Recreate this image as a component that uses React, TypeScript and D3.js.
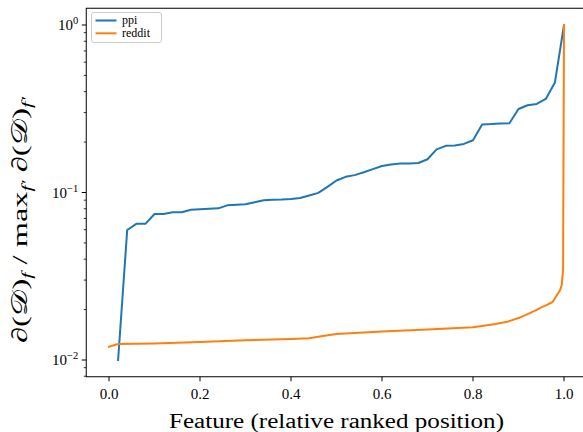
import { useEffect, useRef } from "react";
import * as d3 from "d3";

// ppi: 50 features, ranked; value normalised by the max
const ppiValues = [
  0.01, 0.0597, 0.065, 0.065, 0.0744, 0.0744, 0.0762, 0.0762, 0.0789, 0.0795,
  0.08, 0.0804, 0.0838, 0.0845, 0.085, 0.0875, 0.0898, 0.0905, 0.0908, 0.0915,
  0.0928, 0.096, 0.0995, 0.108, 0.118, 0.124, 0.127, 0.132, 0.138, 0.144,
  0.147, 0.149, 0.149, 0.15, 0.158, 0.181, 0.19, 0.191, 0.195, 0.205,
  0.255, 0.256, 0.258, 0.259, 0.315, 0.332, 0.338, 0.362, 0.453, 1.0,
];

// reddit: at these relative positions
const redditPositions = [
  0, 0.02, 0.1, 0.2, 0.3, 0.4, 0.44, 0.47, 0.5, 0.6, 0.7, 0.8, 0.85, 0.875,
  0.9, 0.92, 0.94, 0.95, 0.96, 0.975, 0.985, 0.991, 0.995, 0.998, 1.0,
];
const redditValues = [
  0.012, 0.01245, 0.01255, 0.0128, 0.0131, 0.01335, 0.0135, 0.0139, 0.0143,
  0.0148, 0.0152, 0.0157, 0.0164, 0.0169, 0.0178, 0.0188, 0.0199, 0.0206,
  0.0212, 0.0222, 0.0245, 0.026, 0.028, 0.035, 1.0,
];

const xTicks = [0, 0.2, 0.4, 0.6, 0.8, 1.0];
const yTicks = [1, 0.1, 0.01];
const yTickExp = ["0", "\u22121", "\u22122"];
const seriesNames = ["ppi", "reddit"];
const colors = ["#1f77b4", "#ff7f0e"];

const W = 583;
const H = 432;

export default function App() {
  const ref = useRef<SVGSVGElement>(null);

  useEffect(() => {
    if (!ref.current) return;
    const svg = d3.select(ref.current);
    svg.selectAll("*").remove();

    const left = 86.25;
    const right = 586.75;
    const top = 8.25;
    const bottom = 376.75;

    const x = d3.scaleLinear().domain([-0.05, 1.05]).range([left, right]);
    const y = d3
      .scaleLog()
      .domain([Math.pow(10, -2.1), Math.pow(10, 0.1)])
      .range([bottom, top]);

    const ppi = ppiValues.map((v, i) => ({ x: (i + 1) / ppiValues.length, v }));
    const reddit = redditPositions.map((p, i) => ({ x: p, v: redditValues[i] }));

    const line = d3
      .line<{ x: number; v: number }>()
      .x((d) => x(d.x))
      .y((d) => y(d.v));

    const g = svg.append("g").attr("font-family", "Liberation Serif, DejaVu Serif, serif");

    // lines
    [ppi, reddit].forEach((data, i) => {
      g.append("path")
        .datum(data)
        .attr("fill", "none")
        .attr("stroke", colors[i])
        .attr("stroke-width", 2)
        .attr("stroke-linejoin", "round")
        .attr("stroke-linecap", "square")
        .attr("d", line);
    });

    // frame
    g.append("rect")
      .attr("x", left)
      .attr("y", top)
      .attr("width", right - left)
      .attr("height", bottom - top)
      .attr("fill", "none")
      .attr("stroke", "#000")
      .attr("stroke-width", 1);

    // x ticks
    xTicks.forEach((t) => {
      g.append("line")
        .attr("x1", x(t))
        .attr("x2", x(t))
        .attr("y1", bottom)
        .attr("y2", bottom + 4.5)
        .attr("stroke", "#000");
      g.append("text")
        .attr("x", x(t))
        .attr("y", bottom + 22)
        .attr("text-anchor", "middle")
        .attr("font-size", 15)
        .text(t.toFixed(1));
    });

    // y minor ticks
    [0.001, 0.01, 0.1].forEach((base) => {
      d3.range(2, 10).forEach((m) => {
        const v = base * m;
        if (v < y.domain()[0] || v > y.domain()[1]) return;
        g.append("line")
          .attr("x1", left)
          .attr("x2", left - 2.5)
          .attr("y1", y(v))
          .attr("y2", y(v))
          .attr("stroke", "#000")
          .attr("stroke-width", 0.8);
      });
    });

    // y major ticks
    yTicks.forEach((t, i) => {
      g.append("line")
        .attr("x1", left)
        .attr("x2", left - 4.5)
        .attr("y1", y(t))
        .attr("y2", y(t))
        .attr("stroke", "#000");
      const txt = g
        .append("text")
        .attr("x", left - 8)
        .attr("y", y(t) + 5)
        .attr("text-anchor", "end")
        .attr("font-size", 15);
      txt.append("tspan").text("10");
      txt.append("tspan").attr("dy", -6).attr("font-size", 10.5).text(yTickExp[i]);
    });

    // x label
    g.append("text")
      .attr("x", (x(0) + x(1)) / 2)
      .attr("y", 428)
      .attr("text-anchor", "middle")
      .attr("font-size", 20)
      .attr("textLength", 335)
      .attr("lengthAdjust", "spacingAndGlyphs")
      .text("Feature (relative ranked position)");

    // y label
    const yl = g
      .append("text")
      .attr("transform", "translate(27,220) rotate(-90)")
      .attr("text-anchor", "middle")
      .attr("font-size", 22)
      .attr("textLength", 246)
      .attr("lengthAdjust", "spacingAndGlyphs");
    const sub = (s: string) =>
      yl.append("tspan").attr("dy", 5).attr("font-size", 15).attr("font-style", "italic").text(s);
    yl.append("tspan").text("\u2202(");
    yl.append("tspan").text("\uD835\uDC9F");
    yl.append("tspan").text(")");
    sub("f");
    yl.append("tspan").attr("dy", -5).text(" / max");
    sub("f\u2032");
    yl.append("tspan").attr("dy", -5).text(" \u2202(");
    yl.append("tspan").text("\uD835\uDC9F");
    yl.append("tspan").text(")");
    sub("f\u2032");

    // legend
    const lg = g.append("g");
    lg.append("rect")
      .attr("x", 91.5)
      .attr("y", 12.5)
      .attr("width", 70)
      .attr("height", 30)
      .attr("rx", 2.5)
      .attr("fill", "#fff")
      .attr("fill-opacity", 0.8)
      .attr("stroke", "#cccccc")
      .attr("stroke-width", 1);
    seriesNames.forEach((name, i) => {
      const ly = 20.5 + i * 12.8;
      lg.append("line")
        .attr("x1", 95.5)
        .attr("x2", 116.5)
        .attr("y1", ly)
        .attr("y2", ly)
        .attr("stroke", colors[i])
        .attr("stroke-width", 2);
      lg.append("text")
        .attr("x", 122)
        .attr("y", ly + 3.5)
        .attr("font-size", 12)
        .text(name);
    });
  }, []);

  return (
    <svg
      ref={ref}
      width={W}
      height={H}
      style={{ position: "absolute", left: 0, top: 0, background: "#fff" }}
    />
  );
}
